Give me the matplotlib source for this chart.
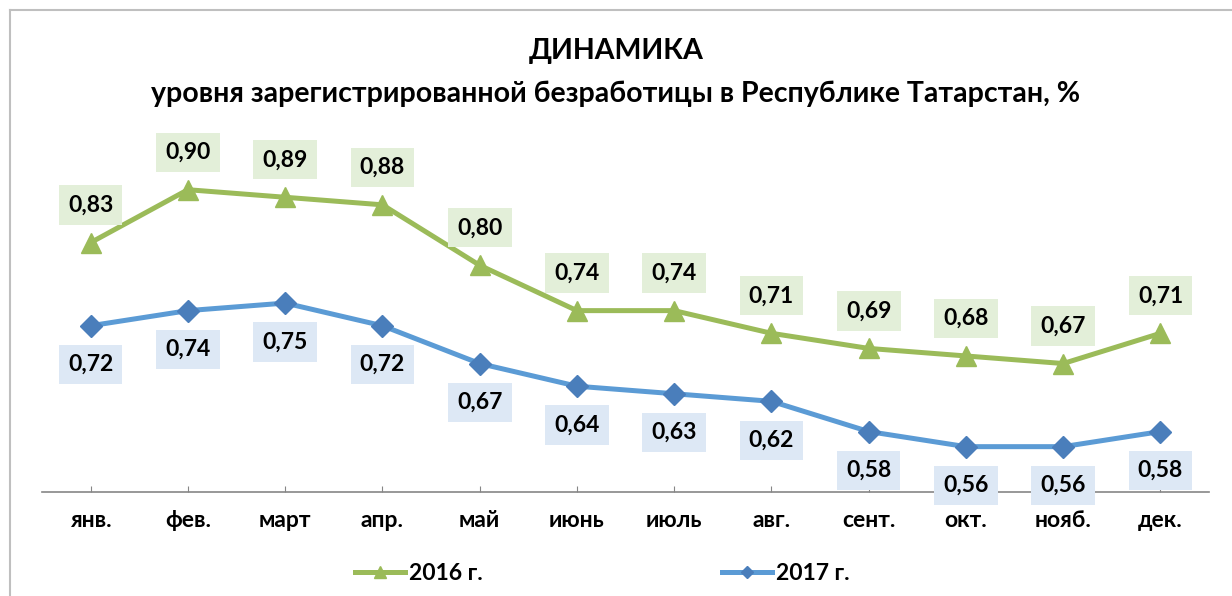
import matplotlib
matplotlib.use("Agg")
import matplotlib.pyplot as plt
from matplotlib.lines import Line2D

plt.rcParams['font.family'] = ['Lato', 'DejaVu Sans']
plt.rcParams['font.weight'] = 'bold'

# months and unemployment level, %
months = ["янв.", "фев.", "март", "апр.", "май", "июнь",
          "июль", "авг.", "сент.", "окт.", "нояб.", "дек."]
y2016 = [0.83, 0.90, 0.89, 0.88, 0.80, 0.74, 0.74, 0.71, 0.69, 0.68, 0.67, 0.71]
y2017 = [0.72, 0.74, 0.75, 0.72, 0.67, 0.64, 0.63, 0.62, 0.58, 0.56, 0.56, 0.58]

green = "#9bbb59"
blue_line = "#5b9bd5"
blue_mark = "#4a7ebb"

fig = plt.figure(figsize=(12.32, 5.96), dpi=100)
ax = fig.add_axes([0.0341, 0.1745, 0.9473, 0.634])

x = list(range(len(months)))
l16, = ax.plot(x, y2016, color=green, lw=3.6, marker="^", markersize=15,
               markerfacecolor=green, markeredgecolor=green, zorder=3)
l17, = ax.plot(x, y2017, color=blue_line, lw=3.6, marker="D", markersize=11,
               markerfacecolor=blue_mark, markeredgecolor=blue_mark, zorder=3)

# data labels
for xi, v in zip(x, y2016):
    ax.annotate(f"{v:.2f}".replace(".", ","), (xi, v), xytext=(0, 27),
                textcoords="offset points", ha="center", va="center",
                fontsize=16.5, fontweight="bold", color="black", zorder=4,
                bbox=dict(boxstyle="square,pad=0.4", fc="#e3efd9", ec="none"))
for xi, v in zip(x, y2017):
    ax.annotate(f"{v:.2f}".replace(".", ","), (xi, v), xytext=(0, -28),
                textcoords="offset points", ha="center", va="center",
                fontsize=16.5, fontweight="bold", color="black", zorder=4,
                bbox=dict(boxstyle="square,pad=0.4", fc="#dde8f5", ec="none"))

ax.set_xlim(-0.5, 11.5)
ax.set_ylim(0.5, 1.0)
ax.set_xticks(x)
ax.set_xticklabels(months, fontsize=16.5, fontweight="bold")
ax.set_yticks([])
ax.tick_params(axis="x", direction="in", length=4, color="#868686", pad=13)
for s in ["top", "right", "left"]:
    ax.spines[s].set_visible(False)
ax.spines["bottom"].set_color("#868686")
ax.spines["bottom"].set_linewidth(1.2)

fig.text(0.5, 0.915, "ДИНАМИКА", ha="center", va="center",
         fontsize=20.5, fontweight="bold")
fig.text(0.5, 0.843, "уровня зарегистрированной безработицы в Республике Татарстан, %",
         ha="center", va="center", fontsize=20.5, fontweight="bold")

# two legend entries placed separately, as in the original
for handle, name, xpos in [(l16, "2016 г.", 355 / 1232), (l17, "2017 г.", 722 / 1232)]:
    fig.legend([handle], [name], loc="center left", bbox_to_anchor=(xpos, 0.038),
               frameon=False, handlelength=2.2, handletextpad=0.15,
               borderpad=0, borderaxespad=0, markerscale=0.6,
               prop={"weight": "bold", "size": 16.5})

# chart frame (top and left edges visible)
fig.add_artist(Line2D([0.0081, 0.0081], [0.0, 0.983], color="#bfbfbf", lw=1.5,
                      transform=fig.transFigure))
fig.add_artist(Line2D([0.0081, 1.0], [0.983, 0.983], color="#bfbfbf", lw=1.5,
                      transform=fig.transFigure))

fig.savefig("out.png", dpi=100)
